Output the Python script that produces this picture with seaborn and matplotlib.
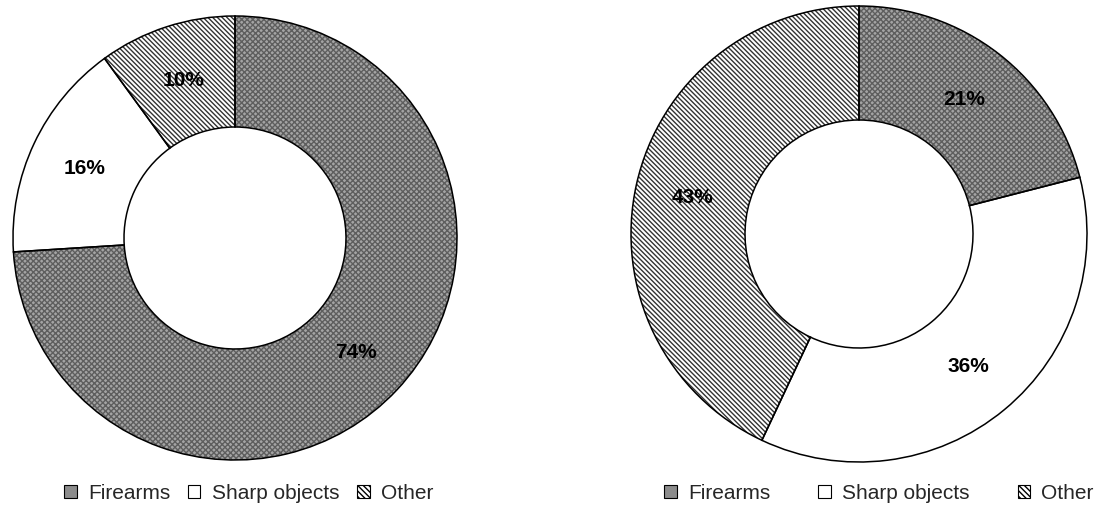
import matplotlib
matplotlib.use("Agg")
import matplotlib.pyplot as plt
from matplotlib.patches import Patch
import seaborn as sns

categories = ["Firearms", "Sharp objects", "Other"]
left_values = [74, 16, 10]
right_values = [21, 36, 43]
left_labels = ["74%", "16%", "10%"]
right_labels = ["21%", "36%", "43%"]

sns.set_theme(style="white")
plt.rcParams["font.family"] = ["Liberation Sans", "DejaVu Sans"]
plt.rcParams["hatch.linewidth"] = 1.0

W, H = 1098, 506
fig = plt.figure(figsize=(W / 100, H / 100), dpi=100)

fills = ["#a4a4a4", "white", "white"]
hatch_colors = ["#5e5e5e", "white", "#333333"]
hatches = ["xxxxxx", None, "\\" * 7]


def donut(cx, cy, r, values, labels):
    ax = fig.add_axes([(cx - r - 2) / W, (H - cy - r - 2) / H,
                       (2 * r + 4) / W, (2 * r + 4) / H])
    # fill layer with hatch patterns
    wedges, _ = ax.pie(values, startangle=90, counterclock=False, colors=fills,
                       wedgeprops=dict(width=0.5, linewidth=0))
    for w, h, hc in zip(wedges, hatches, hatch_colors):
        w.set_edgecolor(hc)
        w.set_linewidth(0)
        if h:
            w.set_hatch(h)
    # outline layer with labels
    ax.pie(values, startangle=90, counterclock=False,
           colors=["none"] * len(values), labels=labels, labeldistance=0.75,
           wedgeprops=dict(width=0.5, edgecolor="black", linewidth=1.1, fill=False),
           textprops=dict(fontsize=15, fontweight="bold", color="black",
                          ha="center", va="center"))
    lim = 1.0 + 2 / r
    ax.set_xlim(-lim, lim)
    ax.set_ylim(-lim, lim)
    ax.set_aspect("equal")
    ax.axis("off")
    return ax


axL = donut(235, 239, 222, left_values, left_labels)
axR = donut(859, 235, 228, right_values, right_labels)

handles = [
    Patch(facecolor="#8c8c8c", edgecolor="black", linewidth=0.8),
    Patch(facecolor="white", edgecolor="black", linewidth=0.8),
    Patch(facecolor="white", edgecolor="black", linewidth=0.8, hatch="\\" * 6),
]

common = dict(ncol=3, frameon=False, fontsize=15, handlelength=0.6,
              handleheight=0.6, handletextpad=0.55, borderaxespad=0,
              borderpad=0, loc="center left")
fig.legend(handles, categories, bbox_to_anchor=(64 / W, 1 - 494 / H),
           columnspacing=0.85, **common)
fig.legend(handles, categories, bbox_to_anchor=(664 / W, 1 - 494 / H),
           columnspacing=2.3, **common)

fig.savefig("out.png", dpi=100, facecolor="white")
